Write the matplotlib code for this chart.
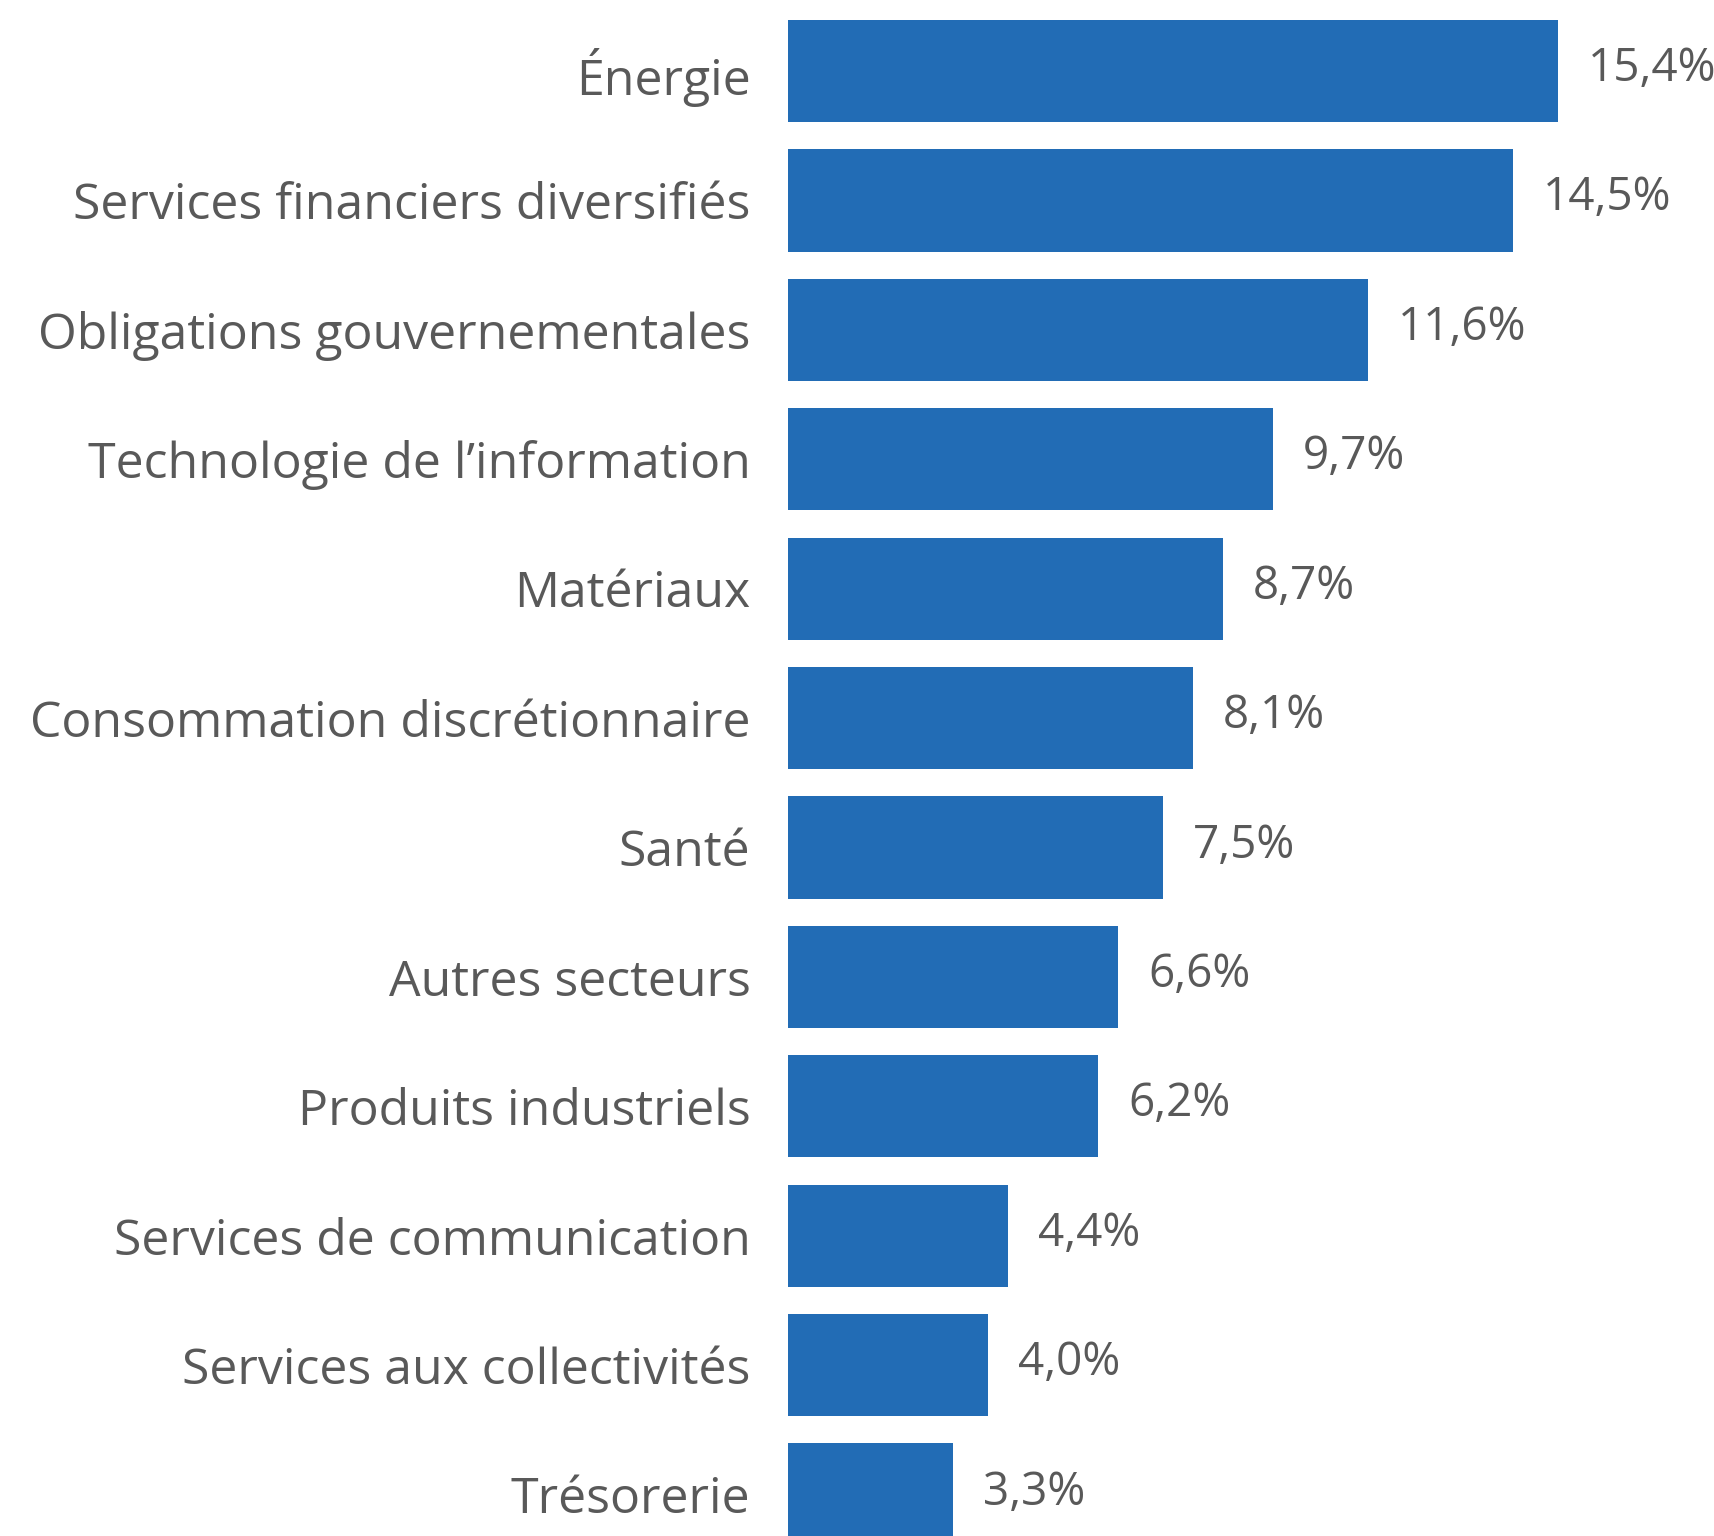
import matplotlib.pyplot as plt

categories = [
    "Énergie",
    "Services financiers diversifiés",
    "Obligations gouvernementales",
    "Technologie de l’information",
    "Matériaux",
    "Consommation discrétionnaire",
    "Santé",
    "Autres secteurs",
    "Produits industriels",
    "Services de communication",
    "Services aux collectivités",
    "Trésorerie",
]
values = [15.4, 14.5, 11.6, 9.7, 8.7, 8.1, 7.5, 6.6, 6.2, 4.4, 4.0, 3.3]
value_labels = ["15,4%", "14,5%", "11,6%", "9,7%", "8,7%", "8,1%", "7,5%",
                "6,6%", "6,2%", "4,4%", "4,0%", "3,3%"]

W, H = 1715, 1536
fig = plt.figure(figsize=(W / 100, H / 100), dpi=100)
left = 788 / W
ax = fig.add_axes([left, 0, 1 - left, 1])

bar_color = "#226cb5"
text_color = "#595959"
font = ["Open Sans", "DejaVu Sans"]

pos = list(range(len(categories)))
ax.barh(pos, values, height=0.79, color=bar_color)

for y, v, lab in zip(pos, values, value_labels):
    ax.annotate(lab, (v, y), xytext=(30, 2), textcoords="offset pixels",
                ha="left", va="center", fontsize=33, color=text_color,
                family=font)

ax.set_yticks(pos)
ax.set_yticklabels(categories, fontsize=36, color=text_color, family=font)
ax.tick_params(axis="y", length=0, pad=27)
for t in ax.get_yticklabels():
    t.set_verticalalignment("center_baseline")
ax.set_xticks([])
ax.set_xlim(0, 18.54)
ax.set_ylim(11.32, -0.549)
for s in ax.spines.values():
    s.set_visible(False)

fig.savefig("out.png", dpi=100)
